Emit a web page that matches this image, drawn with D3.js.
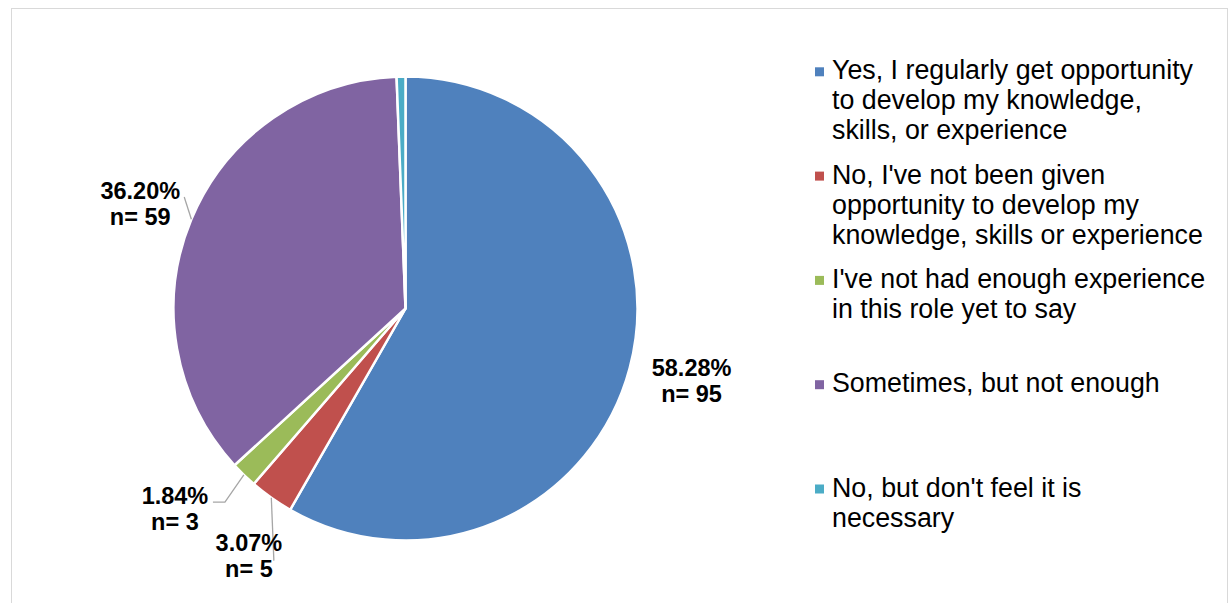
<!DOCTYPE html>
<html>
<head>
<meta charset="utf-8">
<script src="https://cdn.jsdelivr.net/npm/d3@7"></script>
<style>
  html, body { margin: 0; padding: 0; background: #fff; }
  svg { display: block; font-family: Arial, "Liberation Sans", sans-serif; }
</style>
</head>
<body>
<svg id="chart" width="1229" height="603"></svg>
<script>
// Survey responses: opportunity to develop knowledge, skills or experience
const categories = [
  "Yes, I regularly get opportunity to develop my knowledge, skills, or experience",
  "No, I've not been given opportunity to develop my knowledge, skills or experience",
  "I've not had enough experience in this role yet to say",
  "Sometimes, but not enough",
  "No, but don't feel it is necessary"
];
const counts = [95, 5, 3, 59, 1];
const colors = ["#4F81BD", "#C0504D", "#9BBB59", "#8064A2", "#4BACC6"];
// slices that carry a data label
const labelled = [true, true, true, true, false];

const svg = d3.select("#chart");

// chart frame
svg.append("rect")
  .attr("x", 11.5).attr("y", 8.5)
  .attr("width", 1216).attr("height", 620)
  .attr("fill", "#fff").attr("stroke", "#D9D9D9").attr("stroke-width", 1);

const cx = 405.5, cy = 308.5, R = 232;
const total = d3.sum(counts);
const data = categories.map((c, i) => ({ name: c, value: counts[i], color: colors[i], i }));

const pie = d3.pie().value(d => d.value).sort(null);
const arcs = pie(data);
const arc = d3.arc().innerRadius(0).outerRadius(R);

const g = svg.append("g").attr("transform", `translate(${cx},${cy})`);
g.selectAll("path.slice")
  .data(arcs)
  .join("path")
  .attr("class", "slice")
  .attr("d", arc)
  .attr("fill", d => d.data.color)
  .attr("stroke", "#fff")
  .attr("stroke-width", 2.5)
  .attr("stroke-linejoin", "miter");

// label placement: along each slice's mid-angle, with per-label nudges
const labelR = 295;
const nudge = [[1, -4], [14, 6.5], [-25, -12], [7, 9], [0, 0]];
// leader ends, relative to label centre (null = no leader)
const leaderPts = [
  null,
  [[25, 5]],
  [[50, -6], [38, -6]],
  [[44, -7]],
  null
];
const mid = d => (d.startAngle + d.endAngle) / 2;
const pt = (a, r) => [r * Math.sin(a), -r * Math.cos(a)];
const fmt = v => (v / total * 100).toFixed(2) + "%";

arcs.forEach((d, k) => {
  if (!labelled[k]) return;
  const a = mid(d);
  const [lx0, ly0] = pt(a, labelR);
  const lx = lx0 + nudge[k][0], ly = ly0 + nudge[k][1];
  if (leaderPts[k]) {
    const edge = pt(a, R);
    const pts = [edge].concat(leaderPts[k].map(p => [lx + p[0], ly + p[1]]));
    g.append("path")
      .attr("d", d3.line()(pts))
      .attr("fill", "none")
      .attr("stroke", "#A6A6A6")
      .attr("stroke-width", 1.3);
  }
  const t = g.append("text")
    .attr("text-anchor", "middle")
    .attr("font-weight", "bold")
    .attr("font-size", 23.5)
    .attr("fill", "#000");
  t.append("tspan").attr("x", lx).attr("y", ly - 13 + 8.5).text(fmt(d.data.value));
  t.append("tspan").attr("x", lx).attr("y", ly + 13 + 8.5).text("n= " + d.data.value);
});

// legend
const legendY = d3.scalePoint().domain(categories).range([79.3, 496.5]);
const legX = 815, textX = 832, lineH = 30, maxW = 375;
const leg = svg.append("g");
categories.forEach((c, i) => {
  const y = legendY(c);
  leg.append("rect")
    .attr("x", legX).attr("y", y - 12)
    .attr("width", 9).attr("height", 9)
    .attr("fill", colors[i]);
  const t = leg.append("text")
    .attr("font-size", 26.8)
    .attr("fill", "#000");
  // word wrap to the legend width
  const words = c.split(" ");
  let line = [], n = 0;
  let ts = t.append("tspan").attr("x", textX).attr("y", y);
  words.forEach(w => {
    line.push(w);
    ts.text(line.join(" "));
    if (ts.node().getComputedTextLength() > maxW && line.length > 1) {
      line.pop();
      ts.text(line.join(" "));
      line = [w];
      n++;
      ts = t.append("tspan").attr("x", textX).attr("y", y + n * lineH).text(w);
    }
  });
});
</script>
</body>
</html>
